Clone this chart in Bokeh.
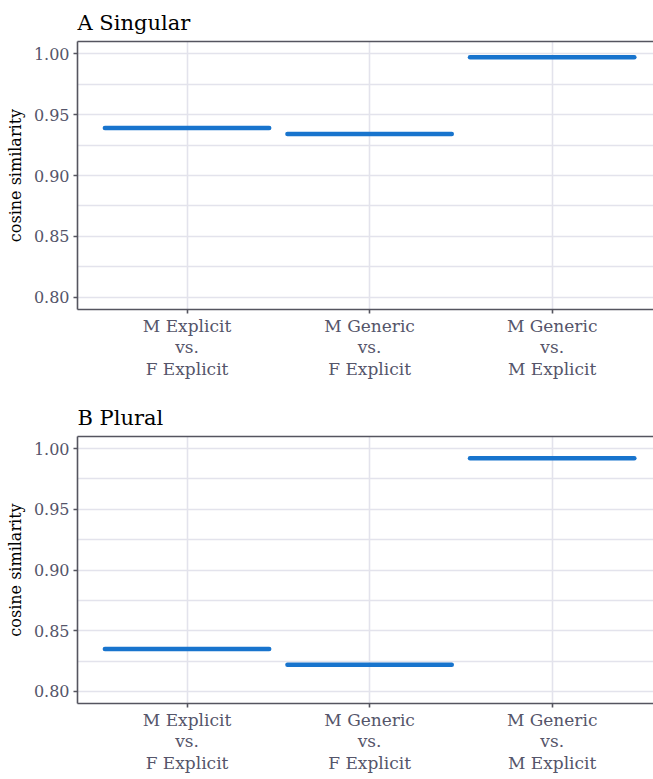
from bokeh.plotting import figure
from bokeh.layouts import column
from bokeh.models import FixedTicker, LinearAxis, Range1d
from bokeh.embed import file_html
from bokeh.resources import INLINE

categories = ["M Explicit\nvs.\nF Explicit", "M Generic\nvs.\nF Explicit", "M Generic\nvs.\nM Explicit"]
singular = [0.939, 0.934, 0.997]
plural = [0.835, 0.822, 0.992]
titles = ["A Singular", "B Plural"]
y_ticks = [0.80, 0.85, 0.90, 0.95, 1.00]
y_minor = [0.825, 0.875, 0.925, 0.975]

FONT = "DejaVu Serif"
TICK_COLOR = "#55556A"
AXIS_COLOR = "#55555F"
GRID_COLOR = "#E3E3EC"
LINE_COLOR = "#1874CD"


def make_panel(title, values, height, top, bottom):
    xs = list(range(1, len(categories) + 1))
    p = figure(width=653, height=height, output_backend="svg", toolbar_location=None,
               x_range=Range1d(0.4, 3.555), y_range=Range1d(0.79, 1.01),
               min_border_left=77, min_border_right=0, min_border_top=top,
               min_border_bottom=bottom, title=title)
    p.title.text_font = FONT
    p.title.text_font_size = "21px"
    p.title.text_font_style = "normal"
    p.title.text_color = "black"
    p.title.offset = 0
    p.title.standoff = 13
    p.outline_line_color = None
    p.outline_line_alpha = 0
    p.background_fill_color = "white"
    p.border_fill_color = "white"

    # grids
    p.xgrid.ticker = FixedTicker(ticks=xs)
    p.ygrid.ticker = FixedTicker(ticks=y_ticks, minor_ticks=y_minor)
    for g in (p.xgrid, p.ygrid):
        g.grid_line_color = GRID_COLOR
        g.grid_line_width = 1.6
    p.ygrid.minor_grid_line_color = GRID_COLOR
    p.ygrid.minor_grid_line_width = 1.4

    # axes
    p.xaxis.ticker = FixedTicker(ticks=xs)
    p.xaxis.major_label_overrides = {x: c for x, c in zip(xs, categories)}
    p.yaxis.ticker = FixedTicker(ticks=y_ticks)
    p.yaxis.major_label_overrides = {t: f"{t:.2f}" for t in y_ticks}
    p.yaxis.axis_label = "cosine similarity"
    for ax in (p.xaxis, p.yaxis):
        ax.axis_line_color = AXIS_COLOR
        ax.axis_line_width = 1.6
        ax.major_tick_line_color = AXIS_COLOR
        ax.major_tick_line_width = 1.6
        ax.major_tick_in = 0
        ax.major_tick_out = 4
        ax.minor_tick_line_color = None
        ax.major_label_text_font = FONT
        ax.major_label_text_font_size = "16px"
        ax.major_label_text_color = TICK_COLOR
        ax.major_label_standoff = 4
    p.xaxis.major_label_standoff = 2
    p.xaxis.major_label_text_font_size = "17px"
    p.xaxis.major_label_text_line_height = 1.08
    p.yaxis.axis_label_text_font = FONT
    p.yaxis.axis_label_text_font_size = "16px"
    p.yaxis.axis_label_text_font_style = "normal"
    p.yaxis.axis_label_text_color = "black"
    p.yaxis.axis_label_standoff = 6

    top_axis = LinearAxis(axis_line_color=AXIS_COLOR, axis_line_width=1.6,
                          major_tick_line_color=None, minor_tick_line_color=None,
                          major_label_text_font_size="0px", major_tick_in=0, major_tick_out=0,
                          minor_tick_in=0, minor_tick_out=0, major_label_standoff=0)
    top_axis.ticker = FixedTicker(ticks=[])
    p.add_layout(top_axis, "above")

    x0 = [x - 0.45 for x in xs]
    x1 = [x + 0.45 for x in xs]
    p.segment(x0=x0, x1=x1, y0=values, y1=values, line_color=LINE_COLOR,
              line_width=4.5, line_cap="round")
    return p


p1 = make_panel(titles[0], singular, 396, 41, 87)
p2 = make_panel(titles[1], plural, 379, 40, 70)
layout = column(p1, p2, spacing=0)

open("out.html", "w").write(file_html(layout, INLINE))
